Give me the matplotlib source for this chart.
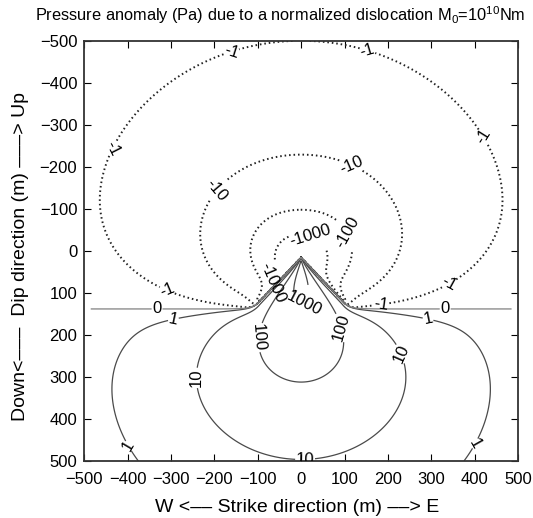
import numpy as np
import matplotlib
matplotlib.use('Agg')
import matplotlib.pyplot as plt

plt.rcParams['font.family'] = ['Liberation Sans', 'DejaVu Sans']
plt.rcParams['mathtext.default'] = 'regular'

# --- data ------------------------------------------------------------------
# contour levels of the pressure anomaly (Pa)
neg_levels = [-1000, -100, -10, -1]
pos_levels = [1, 10, 100, 1000]
zero_level = [0]

# dislocation apex and the two ends of its edge (m)
src = (0.0, 15.0)
edge_ends = [(-95.0, 118.0), (95.0, 118.0)]
y_zero = 138.0          # far-field nodal line

# field parameters fitted to the contours
amp_neg, pow_neg, w_neg, edge_len = 4.82e8, 3.2, 250.0, 25.0   # dilatation side (above)
side_gain, side_scale = 0.8, 280.0
amp_pos, lam_pos, w_pos = 4100.0, 80.0, 30.0                   # compression side (below)
th0_base, th0_slope = 16.0, 0.05                               # opening of the lobe (deg, deg/m)

# label positions (m)
neg_label_pos = [(-406, -229), (-159, -467), (152, -474), (396, -257), (-313, 105), (343, 81),
                 (-187, -138), (113, -200), (182, 105), (-76, 69), (106, -43), (14, -10)]
pos_label_pos = [(5, 121), (-106, 205), (97, 181), (-228, 302), (233, 243), (9, 493),
                 (-295, 160), (-420, 478), (293, 160), (419, 469)]
zero_label_pos = [(-332, 138), (332, 138)]

x_min, x_max, y_min, y_max = -485.0, 485.0, -500.0, 500.0


def seg_dist(px, py, a, b):
    ax_, ay_ = a
    bx, by = b
    dx, dy = bx - ax_, by - ay_
    t = np.clip(((px - ax_) * dx + (py - ay_) * dy) / (dx * dx + dy * dy), 0, 1)
    return np.hypot(px - (ax_ + t * dx), py - (ay_ + t * dy))


def nodal_line(x):
    ax_ = np.abs(x)
    xe, ye = edge_ends[1]
    inner = src[1] + (ye - src[1]) * ax_ / xe
    outer = y_zero - (y_zero - ye) * np.exp(-(ax_ - xe) / 15.0)
    return np.where(ax_ <= xe, inner, outer)


def pressure(X, Y):
    d_edge = np.minimum(seg_dist(X, Y, src, edge_ends[0]), seg_dist(X, Y, src, edge_ends[1]))
    enh = 1 + (edge_len / np.sqrt(d_edge ** 2 + 0.5 ** 2)) ** 2
    r = np.sqrt(X ** 2 + (Y - src[1]) ** 2 + 1.0)
    u = Y - nodal_line(X)
    # above the nodal line: dilatation, power-law decay, a bit wider near the source
    side = 1 + side_gain * (X / r) ** 2 * np.exp(-(r / side_scale) ** 2)
    p_neg = -amp_neg * np.tanh(np.maximum(y_zero - Y, 0) / w_neg) / r ** pow_neg * enh * side
    # below: compression, narrow lobe that opens with distance
    theta = np.degrees(np.arctan2(np.abs(X), Y - src[1]))
    th0 = th0_base + th0_slope * r
    p_pos = amp_pos * np.exp(-r / lam_pos) * np.exp(-(theta / th0) ** 2) \
        * np.tanh(np.maximum(u, 0) / w_pos)
    return np.where(u < 0, p_neg, p_pos)


x = np.linspace(x_min, x_max, 971)
y = np.linspace(y_min, y_max, 1001)
X, Y = np.meshgrid(x, y)
P = pressure(X, Y)

fig = plt.figure(figsize=(5.33, 5.18), dpi=100)
ax = fig.add_axes([0.158, 0.110, 0.814, 0.811])

cn = ax.contour(X, Y, P, levels=neg_levels, colors='#222222',
                linestyles=[(0, (0.8, 1.5))], linewidths=1.4)
cp = ax.contour(X, Y, P, levels=pos_levels, colors='#4a4a4a',
                linestyles='solid', linewidths=0.9)
c0 = ax.contour(X, Y, P, levels=zero_level, colors='#808080',
                linestyles='solid', linewidths=0.9)
for c, pos in ((cn, neg_label_pos), (cp, pos_label_pos), (c0, zero_label_pos)):
    ax.clabel(c, fmt='%g', fontsize=12, inline=True, inline_spacing=1,
              colors='black', manual=pos)

ax.set_xlim(-500, 500)
ax.set_ylim(500, -500)
ax.set_xticks(np.arange(-500, 501, 100))
ax.set_yticks(np.arange(-500, 501, 100))
ax.tick_params(direction='in', top=True, right=True, labelsize=12, length=5)
ax.tick_params(axis='x', pad=8)
ax.tick_params(axis='y', pad=5)
for s in ax.spines.values():
    s.set_linewidth(1.3)
    s.set_color('#333333')

ax.set_xlabel('W <–– Strike direction (m) ––> E', fontsize=14)
ax.set_ylabel('Down<–––  Dip direction (m) –––> Up', fontsize=14)
ax.xaxis.set_label_coords(0.49, -0.09)
ax.yaxis.set_label_coords(-0.128, 0.486)
fig.text(0.525, 0.971, 'Pressure anomaly (Pa) due to a normalized dislocation M$_0$=10$^{10}$Nm',
         fontsize=11.8, ha='center', va='center')

fig.savefig('out.png', dpi=100)
